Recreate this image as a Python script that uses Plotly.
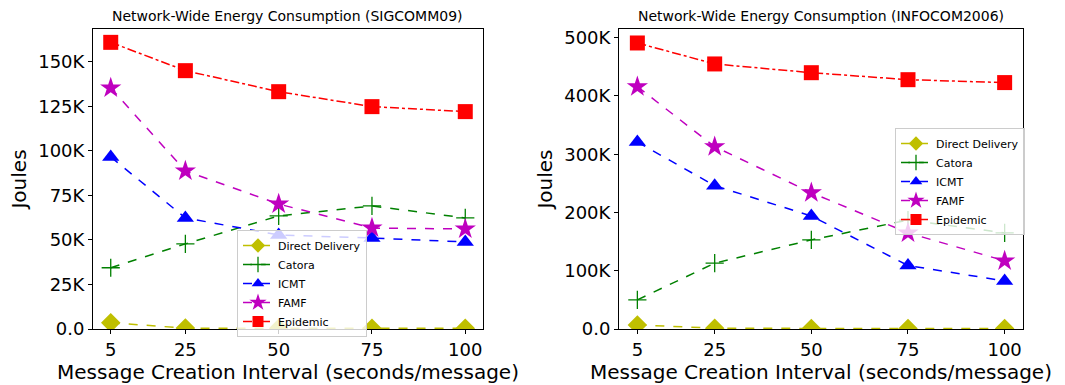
import plotly.graph_objects as go

x_vals = [5, 25, 50, 75, 100]

# SIGCOMM09 (left)
sig_direct = [3500, 500, 400, 400, 400]
sig_catora = [34400, 47800, 63500, 69100, 62400]
sig_icmt = [96600, 62400, 52800, 51100, 48900]
sig_famf = [135400, 88800, 70200, 56700, 56200]
sig_epidemic = [161000, 145100, 133300, 124900, 122100]

# INFOCOM2006 (right)
inf_direct = [7000, 1500, 1000, 1000, 1000]
inf_catora = [50000, 113000, 153000, 187000, 165000]
inf_icmt = [321000, 246000, 194000, 109000, 82500]
inf_famf = [416000, 313000, 234000, 165000, 117000]
inf_epidemic = [491000, 455000, 440000, 428000, 423000]

names = ["Direct Delivery", "Catora", "ICMT", "FAMF", "Epidemic"]
colors = ["#bfbf00", "#008000", "#0000ff", "#bf00bf", "#ff0000"]
symbols = ["diamond", "cross-thin", "triangle-up", "star", "square"]
dashes = ["dash", "dash", "dash", "dash", "dashdot"]

left_ticks = [0, 25000, 50000, 75000, 100000, 125000, 150000]
left_ticktext = ["0.0", "25K", "50K", "75K", "100K", "125K", "150K"]
right_ticks = [0, 100000, 200000, 300000, 400000, 500000]
right_ticktext = ["0.0", "100K", "200K", "300K", "400K", "500K"]

FONT = "DejaVu Sans"
fig = go.Figure()

left_series = [sig_direct, sig_catora, sig_icmt, sig_famf, sig_epidemic]
right_series = [inf_direct, inf_catora, inf_icmt, inf_famf, inf_epidemic]


def make_marker(i, big):
    sym = symbols[i]
    if sym == "cross-thin":
        return dict(symbol=sym, size=13 if big else 11, color=colors[i],
                    line=dict(color=colors[i], width=1.3))
    size = (16 if sym == "star" else 15) if big else (13 if sym == "star" else 11)
    return dict(symbol=sym, size=size, color=colors[i], line=dict(width=0))


for series, xa, ya, lg in [(left_series, "x", "y", "legend"),
                           (right_series, "x2", "y2", "legend2")]:
    for i, ys in enumerate(series):
        fig.add_trace(go.Scatter(
            x=x_vals, y=ys, name=names[i], mode="lines+markers",
            xaxis=xa, yaxis=ya, showlegend=False,
            line=dict(color=colors[i], dash=dashes[i], width=1.5),
            marker=make_marker(i, True),
        ))
        # legend-only entry with smaller symbol
        fig.add_trace(go.Scatter(
            x=[None], y=[None], name=names[i], mode="lines+markers",
            xaxis=xa, yaxis=ya, legend=lg, showlegend=True,
            line=dict(color=colors[i], dash=dashes[i], width=1.5),
            marker=make_marker(i, False),
        ))

ydom = [(385 - 329) / 385, (385 - 29) / 385]
axis_common = dict(showline=True, mirror=True, linecolor="black", linewidth=1,
                   ticks="outside", ticklen=4, tickcolor="black",
                   showgrid=False, zeroline=False, automargin=False,
                   tickfont=dict(family=FONT, size=18, color="black"))

legend_common = dict(xanchor="left", yanchor="top",
                     bgcolor="rgba(255,255,255,0.8)", bordercolor="#cccccc", borderwidth=1,
                     font=dict(family=FONT, size=11), tracegroupgap=0,
                     itemwidth=30)

fig.update_layout(
    width=1065, height=385,
    margin=dict(l=0, r=0, t=0, b=0),
    paper_bgcolor="white", plot_bgcolor="white",
    font=dict(family=FONT, color="black"),
    xaxis=dict(domain=[93 / 1065, 483 / 1065], range=[0.25, 104.75],
               tickvals=x_vals, anchor="y",
               title=dict(text="Message Creation Interval (seconds/message)",
                          font=dict(family=FONT, size=20), standoff=2),
               **axis_common),
    yaxis=dict(domain=ydom, range=[0, 168500], tickvals=left_ticks,
               ticktext=left_ticktext, anchor="x",
               title=dict(text="Joules", font=dict(family=FONT, size=20), standoff=6),
               **axis_common),
    xaxis2=dict(domain=[619 / 1065, 1023 / 1065], range=[0.25, 104.75],
                tickvals=x_vals, anchor="y2",
                title=dict(text="Message Creation Interval (seconds/message)",
                           font=dict(family=FONT, size=20), standoff=2),
                **axis_common),
    yaxis2=dict(domain=ydom, range=[0, 515000], tickvals=right_ticks,
                ticktext=right_ticktext, anchor="x2",
                title=dict(text="Joules", font=dict(family=FONT, size=20), standoff=6),
                **axis_common),
    legend=dict(x=237 / 1065, y=(385 - 230) / 385, **legend_common),
    legend2=dict(x=895 / 1065, y=(385 - 128) / 385, **legend_common),
    showlegend=True,
    annotations=[
        dict(text="Network-Wide Energy Consumption (SIGCOMM09)", x=(93 + 483) / 2 / 1065,
             y=(385 - 16) / 385, xref="paper", yref="paper", showarrow=False,
             xanchor="center", yanchor="middle", font=dict(family=FONT, size=14)),
        dict(text="Network-Wide Energy Consumption (INFOCOM2006)", x=(619 + 1023) / 2 / 1065,
             y=(385 - 16) / 385, xref="paper", yref="paper", showarrow=False,
             xanchor="center", yanchor="middle", font=dict(family=FONT, size=14)),
    ],
)

fig.write_html("out.html")
